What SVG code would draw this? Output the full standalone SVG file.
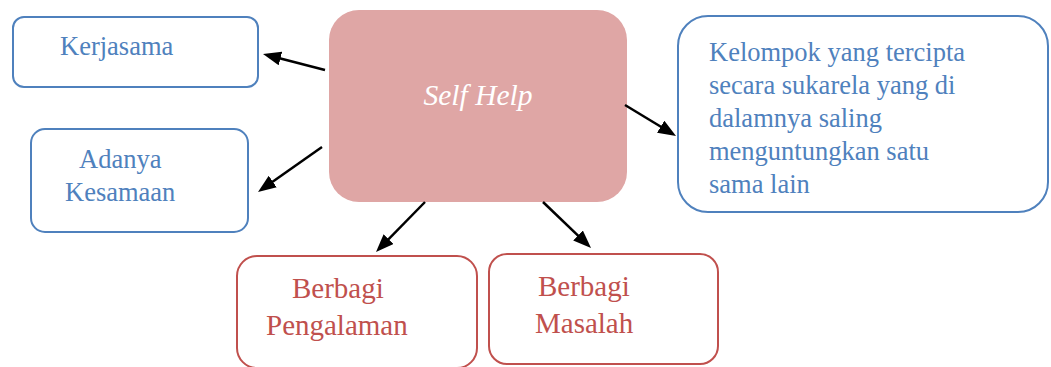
<svg xmlns="http://www.w3.org/2000/svg" width="1051" height="367" viewBox="0 0 1051 367">
<defs>
<marker id="ah" markerUnits="userSpaceOnUse" markerWidth="19" markerHeight="15" refX="8" refY="7" orient="auto">
<path d="M0,0 L18,7 L0,14 z" fill="#000"/>
</marker>
<style>
.b{fill:#fff;stroke:#4f81bd;stroke-width:2}
.r{fill:#fff;stroke:#c0504d;stroke-width:2}
.bt{font-family:"Liberation Serif","Times New Roman",serif;font-size:26.5px;fill:#4f81bd}
.rt{font-family:"Liberation Serif","Times New Roman",serif;font-size:29px;fill:#c0504d}
.c line{stroke:#000;stroke-width:2.5;marker-end:url(#ah)}
</style>
</defs>
<rect width="1051" height="367" fill="#fff"/>
<g id="selfhelp">
<rect x="329" y="10" width="298" height="192" rx="30" fill="#dfa6a5"/>
<text x="478" y="105" text-anchor="middle" font-family="Liberation Serif, Times New Roman, serif" font-style="italic" font-size="29.5" fill="#fff">Self Help</text>
</g>
<g id="kerjasama">
<rect class="b" x="13" y="17" width="245" height="70" rx="11"/>
<text class="bt" x="60" y="55">Kerjasama</text>
</g>
<g id="kesamaan">
<rect class="b" x="31" y="129" width="217" height="103" rx="14"/>
<text class="bt" x="79" y="168">Adanya</text>
<text class="bt" x="65" y="201">Kesamaan</text>
</g>
<g id="kelompok">
<rect class="b" x="678" y="16" width="370" height="196" rx="30"/>
<text class="bt" x="709" y="61">Kelompok yang tercipta</text>
<text class="bt" x="709" y="94">secara sukarela yang di</text>
<text class="bt" x="709" y="127">dalamnya saling</text>
<text class="bt" x="709" y="160">menguntungkan satu</text>
<text class="bt" x="709" y="193">sama lain</text>
</g>
<g id="pengalaman">
<rect class="r" x="237" y="256" width="240" height="112" rx="20"/>
<text class="rt" x="292" y="298">Berbagi</text>
<text class="rt" x="266" y="335">Pengalaman</text>
</g>
<g id="masalah">
<rect class="r" x="489" y="254" width="229" height="110" rx="18"/>
<text class="rt" x="538" y="296">Berbagi</text>
<text class="rt" x="535" y="333">Masalah</text>
</g>
<g id="connectors" class="c">
<line x1="325" y1="70" x2="272.7" y2="56.5"/>
<line x1="322" y1="147" x2="266.2" y2="186.2"/>
<line x1="625" y1="105" x2="667.5" y2="130.8"/>
<line x1="425" y1="202" x2="383" y2="244.9"/>
<line x1="543" y1="202" x2="583.8" y2="241.1"/>
</g>
</svg>
